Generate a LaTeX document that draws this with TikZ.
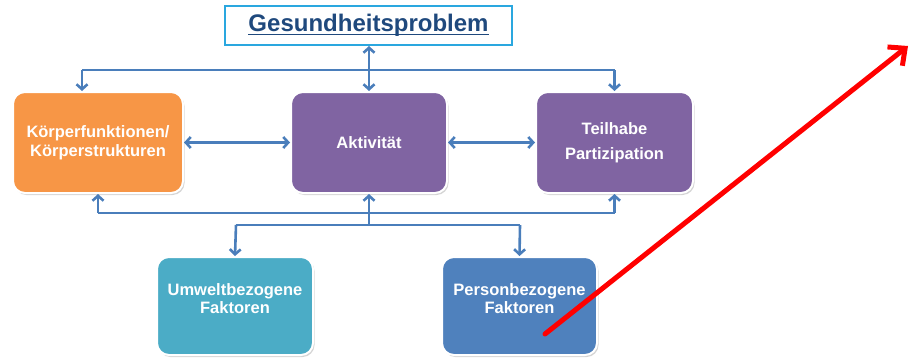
\documentclass[tikz,border=0pt]{standalone}
\usepackage{fontspec}
\setmainfont{Liberation Sans}
\usetikzlibrary{arrows.meta,shadows}

\definecolor{icforange}{HTML}{F79646}
\definecolor{icfpurple}{HTML}{8064A2}
\definecolor{icfteal}{HTML}{4BACC6}
\definecolor{icfblue}{HTML}{4F81BD}
\definecolor{linkblue}{HTML}{4A7EBB}
\definecolor{titleframe}{HTML}{2AA7DF}
\definecolor{titleink}{HTML}{1F497D}
\definecolor{pointer}{HTML}{FF0000}

\newcommand{\ulinetext}[1]{\sbox0{#1}\rlap{\rule[-3.6pt]{\wd0}{1.8pt}}\usebox0}

\tikzset{
  icfbox/.style={rounded corners=12pt, draw=white, line width=2pt,
    text=white, align=center, font=\bfseries\fontsize{16.5}{18.5}\selectfont,
    drop shadow={shadow xshift=1.5pt, shadow yshift=-2pt, opacity=0.28, fill=black!60}},
  link/.style={draw=linkblue, line width=2.6pt},
  linkto/.style={link, -{Straight Barb[length=5pt,width=11pt]}},
  linkboth/.style={link, {Straight Barb[length=5pt,width=11pt]}-{Straight Barb[length=5pt,width=11pt]}},
  pointerarrow/.style={draw=pointer, line width=5pt, line cap=round,
    -{Straight Barb[length=13pt,width=24pt]}}
}

\begin{document}
\begin{tikzpicture}[x=1pt,y=-1pt]
  \useasboundingbox (0,0) rectangle (912,361);

  % health condition
  \node[draw=titleframe, line width=2pt, fill=white, minimum width=287pt, minimum height=39pt,
        inner sep=0pt, text=titleink, font=\bfseries\fontsize{24}{26}\selectfont]
        (gp) at (368.5,25.5) {\ulinetext{Gesundheitsproblem}};

  % components
  \node[icfbox, fill=icforange, minimum width=170pt, minimum height=101pt]
        (kf) at (98,142.5) {Körperfunktionen/\\Körperstrukturen};
  \node[icfbox, fill=icfpurple, minimum width=156pt, minimum height=101pt]
        (ak) at (369,142.5) {Aktivität};
  \node[icfbox, fill=icfpurple, minimum width=157pt, minimum height=101pt]
        (tp) at (614.5,142.5) {Teilhabe\\[6pt]Partizipation};

  % context factors
  \node[icfbox, fill=icfteal, minimum width=156pt, minimum height=98pt]
        (uf) at (235,306) {Umweltbezogene\\Faktoren\\[-4pt]};
  \node[icfbox, fill=icfblue, minimum width=155pt, minimum height=98pt]
        (pf) at (519.5,306) {Personbezogene\\Faktoren\\[-4pt]};

  % junction points
  \coordinate (topl) at (82,70);
  \coordinate (topr) at (614.5,70);
  \coordinate (botl) at (98,213);
  \coordinate (botr) at (614.5,213);
  \coordinate (ctxm) at (369,225);
  \coordinate (ctxl) at (236,225);
  \coordinate (ctxr) at (520,225);

  % upper distribution
  \draw[linkboth] (gp.south -| ak) -- (ak.north);
  \draw[link] (topl) -- (topr);
  \draw[linkto] (topl) -- (topl |- kf.north);
  \draw[linkto] (topr) -- (tp.north);

  % links between components
  \draw[linkboth] (kf.east) -- (ak.west);
  \draw[linkboth] (ak.east) -- (tp.west);

  % lower distribution
  \draw[link] (botl) -- (botr);
  \draw[linkto] (botl) -- (kf.south);
  \draw[linkto] (botr) -- (tp.south);
  \draw[linkto] (ctxm) -- (ak.south);
  \draw[link] (ctxl) -- (ctxr);
  \draw[linkto] (ctxl) -- (uf.north);
  \draw[linkto] (ctxr) -- (pf.north);

  % pointer
  \coordinate (ptail) at (545,334);
  \coordinate (phead) at (908,46);
  \draw[pointerarrow] (ptail) -- (phead);
\end{tikzpicture}
\end{document}
